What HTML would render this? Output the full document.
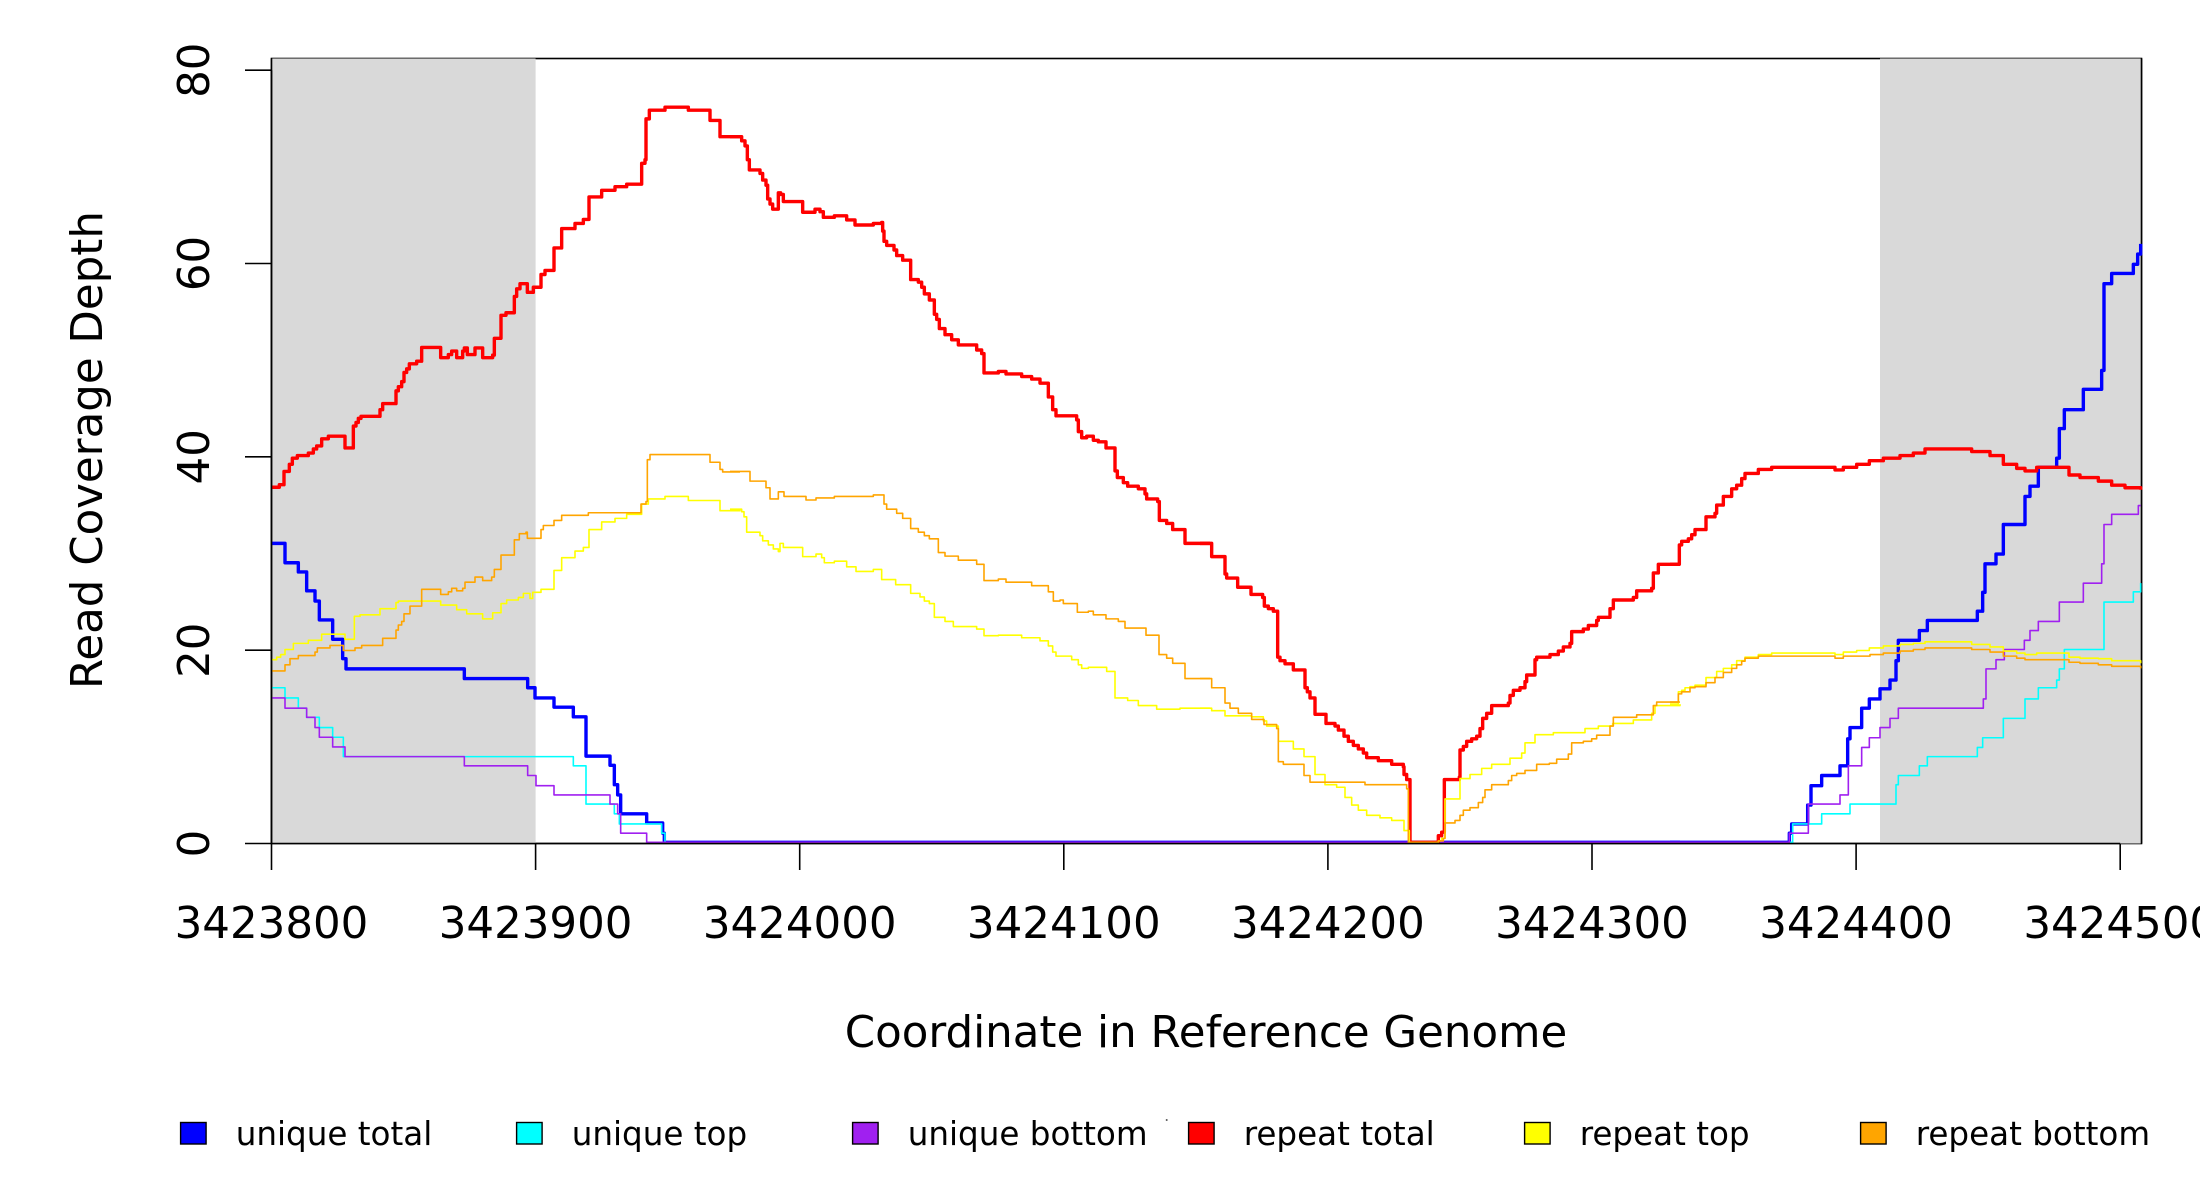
<!DOCTYPE html>
<html><head><meta charset="utf-8"><style>
html,body{margin:0;padding:0;background:#fff;}
svg{display:block;}
text{font-family:"DejaVu Sans","Liberation Sans",sans-serif;fill:#000;}
.t{fill:none;stroke-width:3.4;vector-effect:non-scaling-stroke;stroke-linejoin:round;}
.n{fill:none;stroke-width:1.6;vector-effect:non-scaling-stroke;stroke-linejoin:round;}
</style></head><body>
<svg width="2200" height="1200" viewBox="0 0 2200 1200" xmlns="http://www.w3.org/2000/svg">
<rect x="0" y="0" width="2200" height="1200" fill="#fff"/>
<!-- plot box -->
<rect x="271.5" y="58.5" width="1870" height="785" fill="none" stroke="#000" stroke-width="1.6"/>
<rect x="271.5" y="58.5" width="264.1" height="785" fill="#D9D9D9"/>
<rect x="1880" y="58.5" width="261.5" height="785" fill="#D9D9D9"/>
<line x1="271.5" y1="58.5" x2="271.5" y2="843.5" stroke="#000" stroke-width="1.6"/>
<line x1="2141.5" y1="58.5" x2="2141.5" y2="843.5" stroke="#000" stroke-width="1.6"/>

<!-- zoom 5 region -->
<g transform="translate(260,50) scale(0.333333,0.510204)">
<path class="t" stroke="#0000FF" d="M35 967 H75 V1005 H115 V1023 H140 V1060 H165 V1080 H178 V1117 H218 V1155 H248 V1193 H258 V1213 H613 V1232 H803 V1250 H825 V1270 H882 V1288 H940 V1307 H978 V1384 H1050 V1402 H1063 V1440 H1073 V1460 H1082 V1497 H1160 V1515 H1208 V1535 H1213 V1553 H1440"/>
<path class="n" stroke="#00FFFF" d="M35 1250 H75 V1270 H115 V1290 H140 V1308 H178 V1328 H218 V1347 H250 V1385 H940 V1403 H978 V1478 H1063 V1497 H1078 V1517 H1205 V1535 H1215 V1553 H1440"/>
<path class="n" stroke="#A020F0" d="M35 1270 H75 V1290 H140 V1308 H165 V1328 H178 V1347 H218 V1366 H255 V1385 H613 V1403 H803 V1422 H828 V1442 H882 V1460 H1050 V1478 H1073 V1497 H1082 V1535 H1160 V1553 H1440"/>
<path class="t" stroke="#FF0000" d="M35 857 H58 V852 H72 V826 H88 V812 H97 V800 H112 V795 H145 V790 H160 V782 H170 V776 H185 V762 H205 V757 H255 V780 H280 V737 H288 V730 H295 V722 H303 V718 H360 V705 H368 V693 H408 V668 H415 V660 H425 V650 H432 V632 H440 V625 H448 V615 H470 V610 H485 V583 H542 V603 H565 V597 H575 V590 H590 V603 H608 V590 H613 V584 H622 V597 H645 V584 H668 V603 H698 V598 H703 V565 H723 V520 H738 V515 H763 V483 H770 V468 H780 V458 H802 V475 H820 V465 H843 V440 H855 V432 H882 V388 H905 V350 H945 V340 H970 V332 H987 V288 H1025 V275 H1065 V268 H1100 V263 H1145 V222 H1155 V215 H1158 V135 H1168 V118 H1215 V112 H1285 V118 H1350 V138 H1380 V170 H1440"/>
<path class="n" stroke="#FFFF00" d="M35 1195 H50 V1190 H62 V1185 H75 V1175 H100 V1163 H145 V1157 H185 V1145 H255 V1155 H283 V1110 H300 V1107 H360 V1095 H408 V1083 H415 V1080 H542 V1088 H590 V1097 H620 V1105 H668 V1115 H698 V1103 H723 V1085 H740 V1078 H775 V1073 H790 V1065 H810 V1075 H818 V1063 H843 V1057 H882 V1020 H905 V995 H945 V982 H970 V975 H987 V940 H1025 V925 H1065 V918 H1100 V910 H1145 V890 H1165 V880 H1215 V875 H1285 V883 H1380 V903 H1440 V900"/>
<path class="n" stroke="#FFA500" d="M35 1217 H75 V1205 H90 V1193 H115 V1187 H165 V1180 H172 V1172 H210 V1167 H250 V1177 H285 V1172 H305 V1167 H368 V1153 H408 V1137 H415 V1127 H425 V1120 H432 V1105 H450 V1090 H485 V1057 H542 V1067 H565 V1062 H575 V1055 H590 V1060 H608 V1055 H615 V1043 H645 V1033 H668 V1040 H695 V1033 H703 V1018 H723 V990 H763 V960 H778 V948 H798 V945 H802 V957 H843 V940 H850 V932 H882 V922 H905 V912 H985 V907 H1143 V890 H1158 V885 H1162 V803 H1170 V793 H1350 V808 H1380 V822 H1388 V827 H1440"/>
</g>

<!-- zoom 6 region -->
<g transform="translate(730,50) scale(0.333333,0.510204)">
<path class="t" stroke="#0000FF" d="M0 1553 H1440"/>
<path class="n" stroke="#00FFFF" d="M0 1553 H1440"/>
<path class="n" stroke="#A020F0" d="M0 1553 H1440"/>
<path class="t" stroke="#FF0000" d="M0 170 H35 V178 H45 V188 H52 V215 H58 V235 H90 V242 H98 V255 H108 V265 H113 V292 H120 V302 H128 V312 H145 V280 H152 V283 H160 V297 H218 V318 H255 V312 H270 V317 H280 V328 H313 V325 H350 V333 H375 V343 H430 V340 H455 V338 H458 V355 H462 V375 H470 V383 H492 V392 H500 V403 H518 V412 H542 V450 H565 V455 H575 V465 H583 V478 H598 V490 H613 V518 H620 V528 H628 V546 H645 V558 H665 V568 H685 V578 H740 V588 H755 V595 H762 V633 H805 V630 H828 V635 H875 V640 H905 V645 H930 V653 H955 V680 H968 V705 H978 V717 H1040 V725 H1045 V748 H1055 V760 H1070 V757 H1090 V765 H1105 V768 H1128 V780 H1155 V825 H1162 V838 H1180 V848 H1193 V855 H1225 V860 H1245 V870 H1250 V880 H1283 V885 H1288 V922 H1310 V928 H1328 V940 H1365 V967 H1440"/>
<path class="n" stroke="#FFFF00" d="M0 900 H35 V905 H42 V915 H50 V945 H90 V952 H98 V962 H115 V970 H130 V978 H145 V983 H150 V967 H160 V975 H218 V993 H258 V988 H275 V995 H283 V1005 H313 V1002 H350 V1013 H378 V1022 H430 V1018 H455 V1038 H497 V1048 H542 V1065 H570 V1072 H583 V1080 H598 V1085 H613 V1112 H645 V1120 H670 V1130 H740 V1135 H762 V1148 H805 V1147 H875 V1152 H930 V1158 H955 V1168 H968 V1180 H978 V1188 H1025 V1195 H1045 V1205 H1055 V1212 H1075 V1210 H1130 V1218 H1155 V1270 H1193 V1275 H1225 V1285 H1280 V1292 H1350 V1290 H1440"/>
<path class="n" stroke="#FFA500" d="M0 826 H60 V845 H108 V858 H120 V880 H145 V866 H162 V875 H228 V882 H258 V878 H313 V875 H430 V872 H462 V890 H470 V900 H500 V908 H518 V918 H542 V938 H565 V945 H583 V952 H598 V958 H625 V985 H645 V992 H685 V1000 H740 V1008 H762 V1040 H805 V1037 H828 V1043 H905 V1050 H955 V1062 H970 V1080 H990 V1078 H1000 V1085 H1042 V1102 H1075 V1100 H1090 V1107 H1128 V1115 H1165 V1120 H1185 V1133 H1248 V1147 H1287 V1185 H1310 V1192 H1328 V1202 H1365 V1232 H1440"/>
</g>

<!-- zoom 7 region -->
<g transform="translate(1200,50) scale(0.333333,0.510204)">
<path class="t" stroke="#0000FF" d="M0 1553 H1440"/>
<path class="n" stroke="#00FFFF" d="M0 1553 H1440"/>
<path class="n" stroke="#A020F0" d="M0 1553 H1440"/>
<path class="t" stroke="#FF0000" d="M0 967 H35 V993 H75 V1027 H80 V1035 H113 V1053 H153 V1067 H188 V1073 H193 V1090 H205 V1095 H220 V1100 H233 V1190 H240 V1197 H255 V1203 H280 V1215 H315 V1250 H322 V1258 H330 V1270 H345 V1302 H378 V1320 H405 V1325 H415 V1333 H432 V1345 H445 V1355 H460 V1363 H475 V1370 H490 V1378 H500 V1387 H535 V1393 H575 V1400 H610 V1405 H612 V1420 H620 V1430 H630 V1553 H715 V1540 H725 V1533 H733 V1430 H778 V1425 H780 V1372 H790 V1365 H800 V1355 H815 V1350 H830 V1345 H840 V1330 H848 V1310 H860 V1300 H875 V1285 H925 V1280 H930 V1265 H940 V1255 H960 V1250 H975 V1238 H980 V1225 H1005 V1195 H1010 V1190 H1050 V1185 H1075 V1178 H1090 V1170 H1110 V1163 H1115 V1140 H1150 V1135 H1165 V1128 H1190 V1118 H1195 V1112 H1230 V1095 H1240 V1078 H1300 V1073 H1310 V1060 H1355 V1055 H1360 V1025 H1375 V1008 H1440"/>
<path class="n" stroke="#FFFF00" d="M0 1290 H35 V1295 H75 V1305 H155 V1307 H190 V1315 H200 V1325 H235 V1355 H280 V1370 H312 V1385 H345 V1420 H375 V1440 H410 V1445 H435 V1465 H455 V1480 H475 V1490 H500 V1500 H540 V1505 H575 V1510 H612 V1530 H628 V1553 H715 V1550 H725 V1545 H735 V1468 H780 V1428 H810 V1420 H845 V1408 H875 V1400 H930 V1388 H965 V1378 H975 V1358 H1005 V1342 H1060 V1338 H1155 V1330 H1195 V1325 H1238 V1320 H1300 V1313 H1355 V1300 H1365 V1285 H1440 V1282"/>
<path class="n" stroke="#FFA500" d="M0 1232 H35 V1250 H75 V1280 H90 V1290 H115 V1300 H155 V1312 H192 V1322 H230 V1330 H235 V1395 H250 V1400 H312 V1422 H330 V1435 H495 V1440 H620 V1448 H625 V1553 H715 V1550 H730 V1545 H735 V1515 H765 V1510 H780 V1500 H790 V1490 H810 V1485 H835 V1475 H848 V1465 H855 V1450 H875 V1440 H925 V1432 H935 V1422 H950 V1418 H975 V1412 H1010 V1400 H1048 V1398 H1070 V1390 H1105 V1380 H1115 V1358 H1150 V1355 H1175 V1350 H1190 V1343 H1230 V1325 H1240 V1308 H1310 V1303 H1360 V1285 H1370 V1278 H1440"/>
</g>

<!-- zoom 8 region -->
<g transform="translate(1670,50) scale(0.333333,0.510204)">
<path class="t" stroke="#0000FF" d="M0 1553 H358 V1535 H365 V1517 H413 V1480 H423 V1442 H455 V1422 H510 V1403 H533 V1350 H540 V1328 H575 V1290 H598 V1272 H630 V1252 H660 V1235 H678 V1197 H685 V1157 H748 V1138 H772 V1118 H922 V1100 H938 V1063 H945 V1007 H978 V988 H1000 V930 H1065 V875 H1080 V855 H1105 V818 H1160 V800 H1168 V742 H1183 V705 H1240 V665 H1295 V628 H1302 V458 H1325 V438 H1390 V420 H1403 V400 H1412 V380"/>
<path class="n" stroke="#00FFFF" d="M0 1553 H368 V1517 H455 V1497 H540 V1478 H678 V1440 H685 V1422 H748 V1403 H772 V1385 H922 V1367 H938 V1348 H1000 V1310 H1065 V1272 H1105 V1250 H1160 V1235 H1168 V1213 H1183 V1175 H1302 V1082 H1390 V1062 H1412 V1045"/>
<path class="n" stroke="#A020F0" d="M0 1553 H358 V1535 H415 V1478 H510 V1460 H535 V1403 H575 V1367 H598 V1348 H630 V1328 H660 V1310 H685 V1290 H940 V1272 H948 V1213 H978 V1195 H1003 V1175 H1063 V1157 H1080 V1138 H1105 V1120 H1168 V1082 H1240 V1045 H1295 V1007 H1302 V930 H1325 V910 H1405 V893 H1412"/>
<path class="t" stroke="#FF0000" d="M0 1008 H28 V970 H35 V963 H55 V958 H65 V950 H75 V940 H108 V915 H135 V908 H140 V892 H160 V875 H185 V860 H200 V853 H215 V840 H225 V830 H265 V822 H305 V818 H495 V823 H520 V818 H560 V812 H598 V805 H640 V800 H690 V795 H730 V790 H765 V782 H905 V787 H960 V795 H1000 V812 H1040 V820 H1065 V825 H1100 V818 H1197 V833 H1230 V838 H1285 V845 H1325 V853 H1365 V858 H1412 V862"/>
<path class="n" stroke="#FFFF00" d="M0 1282 H25 V1258 H35 V1255 H45 V1250 H60 V1248 H75 V1245 H108 V1230 H140 V1218 H160 V1212 H185 V1205 H200 V1197 H225 V1190 H265 V1185 H305 V1182 H495 V1185 H520 V1180 H560 V1177 H598 V1172 H640 V1168 H690 V1165 H730 V1163 H765 V1160 H905 V1165 H960 V1170 H1000 V1178 H1040 V1182 H1065 V1185 H1100 V1182 H1197 V1190 H1230 V1192 H1285 V1193 H1325 V1197 H1412 V1202"/>
<path class="n" stroke="#FFA500" d="M0 1278 H25 V1262 H35 V1258 H60 V1250 H75 V1248 H108 V1240 H135 V1230 H160 V1220 H185 V1212 H200 V1205 H215 V1198 H225 V1192 H265 V1188 H495 V1192 H520 V1188 H600 V1185 H640 V1182 H690 V1178 H730 V1175 H765 V1172 H905 V1175 H960 V1180 H1000 V1188 H1040 V1192 H1065 V1195 H1197 V1200 H1230 V1202 H1285 V1205 H1325 V1208 H1412 V1212"/>
</g>

<!-- axes -->
<g stroke="#000" stroke-width="1.6">
<line x1="271.5" y1="70.2" x2="271.5" y2="843.5"/>
<line x1="245" y1="843.5" x2="271.5" y2="843.5"/>
<line x1="245" y1="650.2" x2="271.5" y2="650.2"/>
<line x1="245" y1="456.8" x2="271.5" y2="456.8"/>
<line x1="245" y1="263.5" x2="271.5" y2="263.5"/>
<line x1="245" y1="70.2" x2="271.5" y2="70.2"/>
<line x1="271.5" y1="843.5" x2="2120.2" y2="843.5"/>
<line x1="271.5" y1="843.5" x2="271.5" y2="870"/>
<line x1="535.6" y1="843.5" x2="535.6" y2="870"/>
<line x1="799.7" y1="843.5" x2="799.7" y2="870"/>
<line x1="1063.8" y1="843.5" x2="1063.8" y2="870"/>
<line x1="1327.9" y1="843.5" x2="1327.9" y2="870"/>
<line x1="1592" y1="843.5" x2="1592" y2="870"/>
<line x1="1856.1" y1="843.5" x2="1856.1" y2="870"/>
<line x1="2120.2" y1="843.5" x2="2120.2" y2="870"/>
</g>
<g font-size="43.5" text-anchor="middle">
<text transform="translate(209,843.5) rotate(-90)">0</text>
<text transform="translate(209,650.2) rotate(-90)">20</text>
<text transform="translate(209,456.8) rotate(-90)">40</text>
<text transform="translate(209,263.5) rotate(-90)">60</text>
<text transform="translate(209,70.2) rotate(-90)">80</text>
<text x="271.5" y="938">3423800</text>
<text x="535.6" y="938">3423900</text>
<text x="799.7" y="938">3424000</text>
<text x="1063.8" y="938">3424100</text>
<text x="1327.9" y="938">3424200</text>
<text x="1592" y="938">3424300</text>
<text x="1856.1" y="938">3424400</text>
<text x="2120.2" y="938">3424500</text>
<text x="1206" y="1047">Coordinate in Reference Genome</text>
<text transform="translate(102,450) rotate(-90)">Read Coverage Depth</text>
</g>

<!-- legend -->
<g stroke="#000" stroke-width="1.4">
<rect x="180.6" y="1122.5" width="25.5" height="21.5" fill="#0000FF"/>
<rect x="516.6" y="1122.5" width="25.5" height="21.5" fill="#00FFFF"/>
<rect x="852.6" y="1122.5" width="25.5" height="21.5" fill="#A020F0"/>
<rect x="1188.6" y="1122.5" width="25.5" height="21.5" fill="#FF0000"/>
<rect x="1524.6" y="1122.5" width="25.5" height="21.5" fill="#FFFF00"/>
<rect x="1860.6" y="1122.5" width="25.5" height="21.5" fill="#FFA500"/>
</g>
<circle cx="1166.7" cy="1120" r="1" fill="#555"/>
<g font-size="32.6">
<text x="235.7" y="1145">unique total</text>
<text x="571.7" y="1145">unique top</text>
<text x="907.7" y="1145">unique bottom</text>
<text x="1243.7" y="1145">repeat total</text>
<text x="1579.7" y="1145">repeat top</text>
<text x="1915.7" y="1145">repeat bottom</text>
</g>
</svg>
</body></html>
